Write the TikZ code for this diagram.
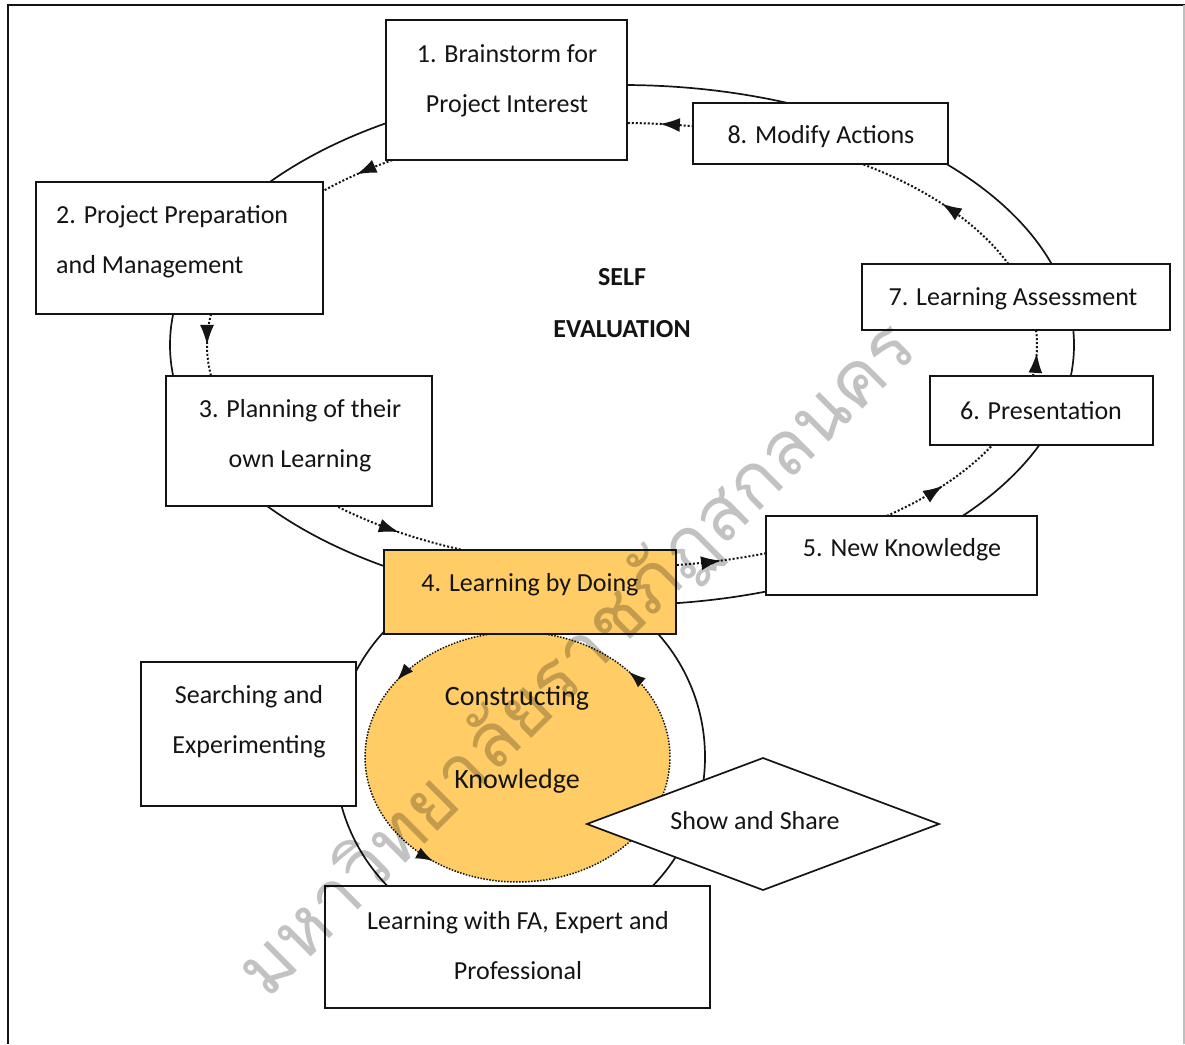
\documentclass[tikz,border=0pt]{standalone}
\usepackage{fontspec}
\setmainfont{Carlito}
\newfontfamily\thaifont[Script=Thai]{Loma}
\usetikzlibrary{shapes.geometric,decorations.markings,arrows.meta}
\definecolor{amber}{RGB}{255,204,102}
\definecolor{ink}{RGB}{20,20,20}

% dotted arc of the inner cycle, between parameter angles #1 and #2
\newcommand\cyclearc[2]{%
  \draw[flow] plot[domain=0:1, samples=40, variable=\pp]
    ({622+415*cos(#1+(#2-#1)*\pp)},{345+222*sin(#1+(#2-#1)*\pp)});}

\begin{document}
\begin{tikzpicture}[x=1pt,y=-1pt,
  stage/.style={draw=ink, line width=1.7pt, fill=white, inner sep=0pt, outer sep=0pt},
  lbl/.style={font=\fontsize{26}{50}\selectfont, text=ink, inner sep=0pt, align=center},
  ring/.style={draw=ink, line width=1.7pt},
  headtip/.tip={Latex[length=20pt,width=14pt]},
  smalltip/.tip={Latex[length=17pt,width=12pt]},
  flow/.style={dash pattern=on 2pt off 2pt, line width=2pt, draw=ink, postaction={decorate},
    decoration={markings, mark=at position 0.5 with {\arrow{headtip}}}},
]
\useasboundingbox (0,0) rectangle (1185,1044);

% frame
\draw[ink, line width=1.6pt] (8,1044) -- (8,5) -- (1185,5);
\draw[black!25, line width=1.5pt] (1184,5) -- (1184,1044);

% outer solid cycle
\draw[ring] (622,345) ellipse [x radius=452, y radius=260];

% inner dotted cycle with arrows
\cyclearc{237}{223}
\cyclearc{189}{171}
\cyclearc{134.5}{111.5}
\cyclearc{83.5}{68.7}
\cyclearc{51}{26}
\cyclearc{9}{-5}
\cyclearc{-20.5}{-55.5}
\cyclearc{-79.5}{-90}

% lower solid ring
\draw[ring] (520,757) circle [radius=185];

% stage boxes
\node[stage, minimum width=241, minimum height=140] (b1) at (506.5,90) {};
\node[stage, minimum width=255, minimum height=61] (b8) at (820.5,133.5) {};
\node[stage, minimum width=287, minimum height=132] (b2) at (179.5,248) {};
\node[stage, minimum width=308, minimum height=66] (b7) at (1016,297) {};
\node[stage, minimum width=223, minimum height=69] (b6) at (1041.5,410.5) {};
\node[stage, minimum width=266, minimum height=130] (b3) at (299,441) {};
\node[stage, minimum width=271, minimum height=79] (b5) at (901.5,555.5) {};

% constructing knowledge
\node[ellipse, fill=amber, minimum width=305, minimum height=250, inner sep=0pt] (ck) at (517.5,757) {};
\draw[dash pattern=on 1.5pt off 1.5pt, line width=1.5pt, draw=ink, postaction={decorate},
  decoration={markings,
    mark=at position 0.112 with {\arrow{smalltip}},
    mark=at position 0.403 with {\arrow{smalltip}},
    mark=at position 0.65 with {\arrow{smalltip}}}]
  plot[domain=0:1, samples=120, variable=\pp]
    ({517.5+152.5*cos(360-360*\pp)},{757+125*sin(360-360*\pp)});

\node[stage, fill=amber, minimum width=292, minimum height=84] (b4) at (530,592) {};
\node[stage, minimum width=215, minimum height=144] (bs) at (248.5,734) {};
\node[stage, minimum width=385, minimum height=122] (bf) at (517.5,947) {};
\node[stage, diamond, aspect=2.667, minimum width=352, minimum height=132] (ds) at (763,824) {};

% labels
\node[lbl] (t1) at (507,81) {1. Brainstorm for\\Project Interest};
\node[lbl] (t8) at (821,137) {8. Modify Actions};
\node[lbl, align=left, anchor=west] (t2) at (56,242) {2. Project Preparation\\and Management};
\node[lbl] (t7) at (1013,299) {7. Learning Assessment};
\node[lbl] (t6) at (1041,411) {6. Presentation};
\node[lbl] (t3) at (300,436) {3. Planning of their\\own Learning};
\node[lbl] (t5) at (902,550) {5. New Knowledge};
\node[lbl] (t4) at (530,585) {4. Learning by Doing};
\node[lbl] (ts) at (249,722) {Searching and\\Experimenting};
\node[lbl] (tf) at (518,946) {Learning with FA, Expert and\\Professional};
\node[lbl, font=\fontsize{28}{83}\selectfont] (tk) at (517,740) {Constructing\\Knowledge};
\node[lbl] (td) at (755,821) {Show and Share};
\node[lbl, font=\bfseries\fontsize{26}{52}\selectfont] (se) at (622,303) {SELF\\EVALUATION};

% watermark
\node[rotate=44.8, text=black, opacity=0.24, inner sep=0pt,
  font=\thaifont\fontsize{75}{75}\selectfont] (wm) at (578,660) {มหาวิทยาลัยราชภัฏสกลนคร};
\end{tikzpicture}
\end{document}
